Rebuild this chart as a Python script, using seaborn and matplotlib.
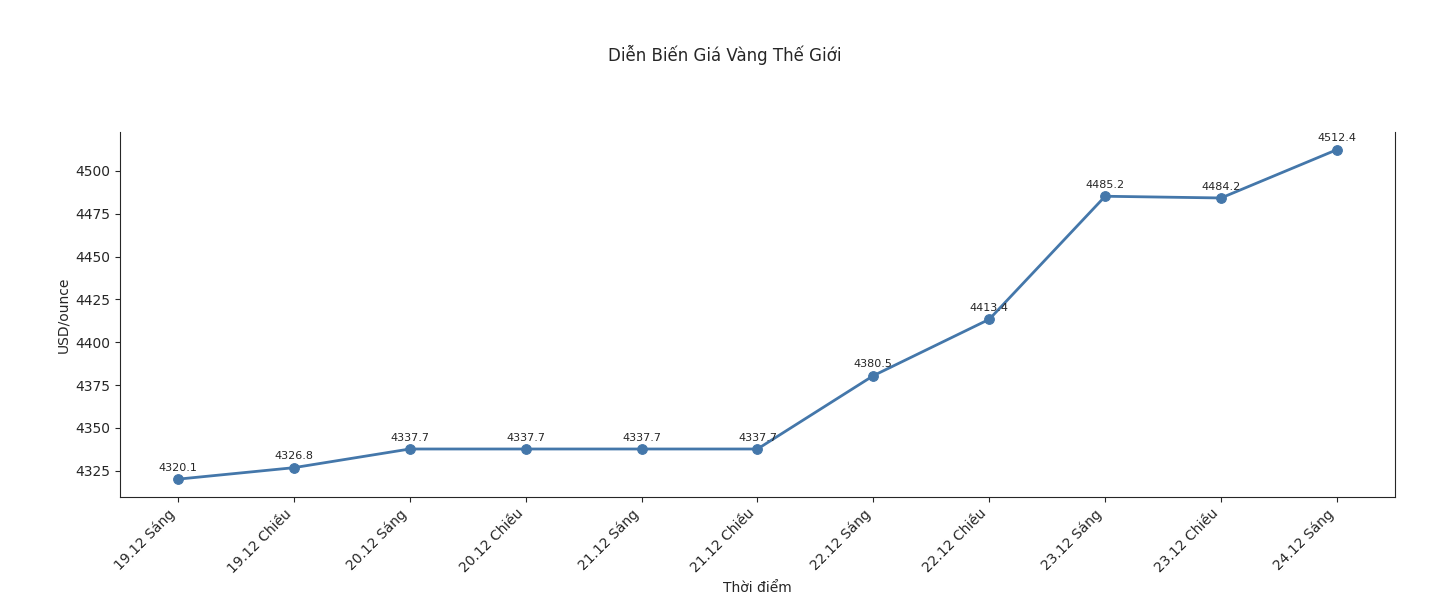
import matplotlib
matplotlib.use("Agg")
import matplotlib.pyplot as plt
import seaborn as sns
import pandas as pd

labels = ["19.12 Sáng", "19.12 Chiều", "20.12 Sáng", "20.12 Chiều", "21.12 Sáng", "21.12 Chiều",
          "22.12 Sáng", "22.12 Chiều", "23.12 Sáng", "23.12 Chiều", "24.12 Sáng"]
prices = [4320.1, 4326.8, 4337.7, 4337.7, 4337.7, 4337.7, 4380.5, 4413.4, 4485.2, 4484.2, 4512.4]

sns.set_style("ticks")
plt.rcParams['font.family'] = ['DejaVu Sans']
df = pd.DataFrame({"x": range(len(labels)), "y": prices})

fig = plt.figure(figsize=(14.5, 6), dpi=100)
ax = fig.add_axes([0.0828, 0.172, 0.962 - 0.0828, 0.78 - 0.172])
color = "#4477aa"
sns.lineplot(data=df, x="x", y="y", ax=ax, color=color, linewidth=2, marker="o",
             markersize=7, markeredgecolor=color)
for i, v in enumerate(prices):
    ax.annotate(f"{v:.1f}", (i, v), textcoords="offset points", xytext=(0, 6),
                ha="center", fontsize=8)
ax.set_xlim(-0.5, 10.5)
ax.set_ylim(4309.8, 4522.7)
ax.set_xticks(range(len(labels)))
ax.set_xticklabels(labels, rotation=45, ha="right", fontsize=10)
ax.tick_params(axis="y", labelsize=10)
ax.set_xlabel("Thời điểm", fontsize=10)
ax.set_ylabel("USD/ounce", fontsize=10)
ax.spines["top"].set_visible(False)
fig.suptitle("Diễn Biến Giá Vàng Thế Giới", y=0.925, fontsize=12)
fig.savefig("out.png", dpi=100)
